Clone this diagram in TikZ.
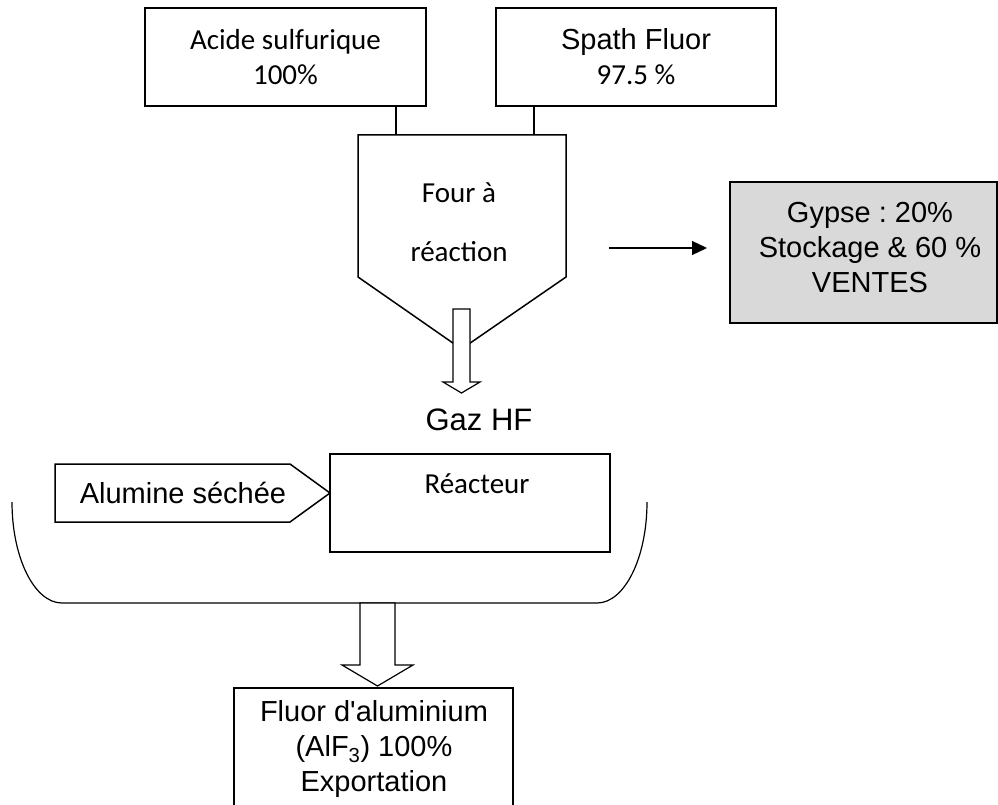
\documentclass[tikz,border=0pt]{standalone}
\usepackage{fontspec}
\newfontfamily\calibrifont{Carlito}
\newfontfamily\arialfont{Liberation Sans}
\usepackage{tikz}
\usetikzlibrary{arrows.meta}
\definecolor{gypsegray}{RGB}{217,217,217}
\frenchspacing

\begin{document}
\begin{tikzpicture}[x=1pt, y=-1pt, line width=1.5pt,
    box/.style={draw, rectangle, inner sep=0pt},
    calibritext/.style={font=\calibrifont\fontsize{29}{35}\selectfont, align=center},
    arialtext/.style={font=\arialfont\fontsize{29}{35}\selectfont, align=center},
    hollowarrow/.style={draw, fill=white, line width=1.2pt}]
                  \clip (0,0) rectangle (998,805);
                  \node[box, calibritext, minimum width=281pt, minimum height=98pt] (acide) at (285.5,57) {Acide sulfurique\\100\%};
                  \node[box, calibritext, minimum width=280pt, minimum height=98pt] (spath) at (636,57) {{\arialfont Spath Fluor}\\97.5 \%};

                  \coordinate (ftopl) at (396,135);
                  \coordinate (ftopr) at (534,135);
                  \draw (358,135) -- (566,135) -- (566,277) -- (461.5,349) -- (358,277) -- cycle;
                  \draw (acide.south -| ftopl) -- (ftopl);
                  \draw (spath.south -| ftopr) -- (ftopr);
                  \node[calibritext] (four) at (459,222.5) {Four à\\[24pt]réaction};
                  \draw[hollowarrow] (453,309) -- (470,309) -- (470,382) -- (480,382) -- (461.5,393) -- (443,382) -- (453,382) -- cycle;
                  \node[arialtext, font=\arialfont\fontsize{31}{37}\selectfont] (gaz) at (479,420) {Gaz HF};

                  \coordinate (gypsestart) at (609,248);
                  \coordinate (gypseend) at (707,248);
                  \draw[-{Triangle[length=15pt, width=14pt]}, line width=1.2pt] (gypsestart) -- (gypseend);
                  \node[box, fill=gypsegray, minimum width=267pt, minimum height=141pt] (gypse) at (863.5,252.5) {};
                  \node[arialtext] (gypsetxt) at (870,248) {Gypse : 20\%\\Stockage \& 60 \%\\VENTES};

                  \draw[line width=1.2pt] (12,502) arc[start angle=180, end angle=90, x radius=50, y radius=101] -- (597,603) arc[start angle=90, end angle=0, x radius=50, y radius=101];
                  \node[box, minimum width=280pt, minimum height=98pt] (reacteur) at (470,503) {};
                  \node[calibritext] (reacteurtxt) at (477,484) {Réacteur};
                  \draw (55,464) -- (290,464) -- (330,493) -- (290,522) -- (55,522) -- cycle;
                  \node[arialtext] (alumine) at (183,493) {Alumine séchée};

                  \draw[hollowarrow] (360,603) -- (395,603) -- (395,665) -- (413,665) -- (377.5,686) -- (342,665) -- (360,665) -- cycle;
                  \node[box, minimum width=279pt, minimum height=200pt, anchor=north] (fluor) at (373.5,687) {};
                  \node[arialtext] (fluortxt) at (374,749) {Fluor d\textquotesingle aluminium\\(AlF\textsubscript{3}) 100\%\\Exportation};
              \end{tikzpicture}
\end{document}
